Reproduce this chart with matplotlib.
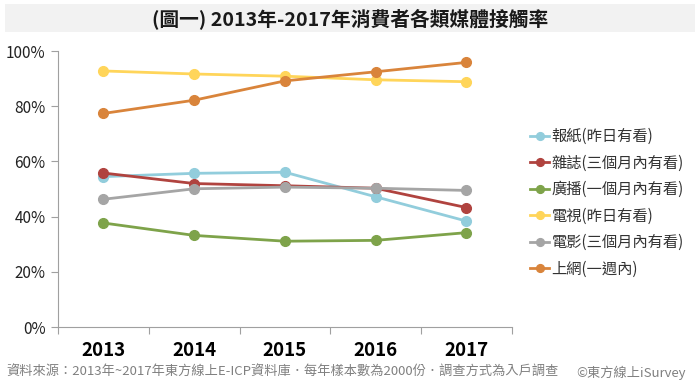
import matplotlib.pyplot as plt
from matplotlib.patches import Rectangle

plt.rcParams['font.family'] = ['Noto Sans CJK TC', 'DejaVu Sans']

years = ['2013', '2014', '2015', '2016', '2017']
labels = ['報紙(昨日有看)', '雜誌(三個月內有看)', '廣播(一個月內有看)',
          '電視(昨日有看)', '電影(三個月內有看)', '上網(一週內)']
newspaper = [54.5, 55.7, 56.1, 47.2, 38.4]
magazine = [55.8, 52.0, 51.2, 50.3, 43.3]
radio = [37.7, 33.2, 31.1, 31.4, 34.2]
tv = [92.8, 91.7, 90.9, 89.6, 88.9]
movie = [46.3, 50.1, 50.7, 50.3, 49.5]
internet = [77.4, 82.2, 89.2, 92.5, 95.9]
colors = ['#92cddc', '#b0433f', '#7ea34a', '#ffd55a', '#a5a5a5', '#d9843b']

fig = plt.figure(figsize=(7, 3.9), dpi=100)
fig.patches.append(Rectangle((0.007, 0.918), 0.986, 0.072, transform=fig.transFigure,
                             facecolor='#f2f2f2', edgecolor='none', zorder=0))
fig.text(0.5, 0.953, '(圖一) 2013年-2017年消費者各類媒體接觸率', ha='center', va='center',
         fontsize=14.2, fontweight='bold', color='#1a1a1a')

ax = fig.add_axes([0.083, 0.1615, 0.648, 0.7075])
x = range(len(years))
series = [newspaper, magazine, radio, tv, movie, internet]
for vals, lab, c in zip(series, labels, colors):
    ax.plot(x, vals, color=c, lw=2, marker='o', ms=7, label=lab)

ax.set_xlim(-0.5, 4.5)
ax.set_ylim(0, 100)
ax.set_yticks(range(0, 101, 20))
ax.set_yticklabels([f'{v}%' for v in range(0, 101, 20)], fontsize=11, color='#222222')
ax.set_xticks([i - 0.5 for i in range(6)], minor=False)
ax.set_xticklabels([])
ax.set_xticks(list(x), minor=True)
ax.set_xticklabels(years, minor=True, fontsize=13.5, fontweight='bold')
ax.tick_params(axis='x', which='minor', length=0, pad=10)
ax.tick_params(axis='x', which='major', length=5, color='#a0a0a0', direction='out')
ax.tick_params(axis='y', length=5, color='#a0a0a0', direction='out', pad=4)
for s in ['top', 'right']:
    ax.spines[s].set_visible(False)
for s in ['left', 'bottom']:
    ax.spines[s].set_color('#a0a0a0')

ax.legend(loc='center left', bbox_to_anchor=(1.0, 0.45), frameon=False,
          handlelength=1.25, handletextpad=0.15, labelspacing=0.62, markerscale=0.8,
          borderaxespad=0.8, prop={'size': 11}, labelcolor='#333333')

fig.text(0.009, 0.045, '資料來源：2013年~2017年東方線上E-ICP資料庫．每年樣本數為2000份．調查方式為入戶調查',
         fontsize=9.5, color='#808080', va='center')
fig.text(0.98, 0.045, '©東方線上iSurvey', fontsize=9.5, color='#808080', va='center', ha='right')

fig.savefig('out.png', dpi=100)
